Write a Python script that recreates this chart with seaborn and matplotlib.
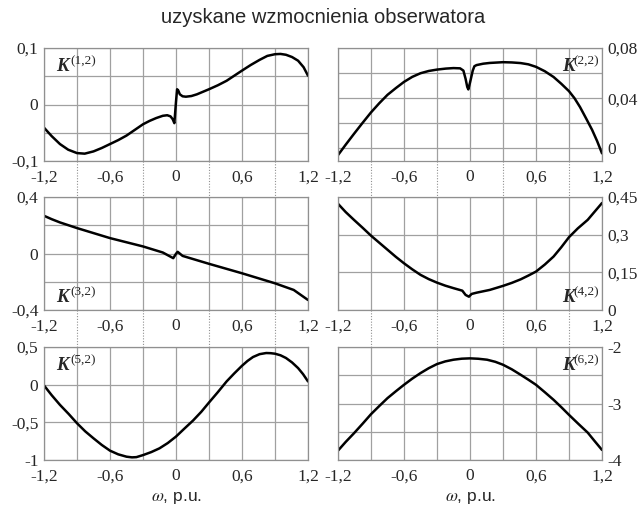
import matplotlib
matplotlib.use('Agg')
import matplotlib.pyplot as plt
import seaborn as sns
import pandas as pd
from matplotlib.ticker import FuncFormatter, MultipleLocator

sns.set_style("white")
plt.rcParams['font.family'] = ['Liberation Serif', 'DejaVu Serif']
plt.rcParams['axes.unicode_minus'] = False
plt.rcParams['mathtext.fontset'] = 'stix'

# dane
w_k12 = [-1.2, -1.13, -1.055, -0.98, -0.9, -0.83, -0.75, -0.675, -0.6, -0.525, -0.45, -0.375,
         -0.3, -0.24, -0.18, -0.12, -0.08, -0.05, -0.03, -0.015, 0.0, 0.01, 0.02, 0.035, 0.06,
         0.09, 0.14, 0.19, 0.3, 0.38, 0.46, 0.53, 0.6, 0.68, 0.76, 0.83, 0.9, 0.95, 1.0,
         1.055, 1.11, 1.16, 1.2]
k12 = [-0.041, -0.056, -0.070, -0.080, -0.086, -0.087, -0.083, -0.077, -0.070, -0.063, -0.055,
       -0.045, -0.035, -0.029, -0.024, -0.020, -0.019, -0.021, -0.026, -0.033, 0.005, 0.027,
       0.025, 0.018, 0.0145, 0.0138, 0.015, 0.018, 0.027, 0.034, 0.042, 0.051, 0.060, 0.070,
       0.079, 0.086, 0.089, 0.0895, 0.088, 0.084, 0.0775, 0.066, 0.051]

w_k22 = [-1.2, -1.13, -1.055, -0.98, -0.9, -0.825, -0.75, -0.675, -0.6, -0.525, -0.45, -0.375,
         -0.3, -0.22, -0.15, -0.09, -0.06, -0.04, -0.025, -0.015, 0.0, 0.025, 0.04, 0.06, 0.12,
         0.18, 0.3, 0.38, 0.46, 0.53, 0.6, 0.68, 0.76, 0.83, 0.9, 0.95, 1.0, 1.055, 1.11,
         1.155, 1.2]
k22 = [-0.0053, 0.003, 0.0116, 0.020, 0.0287, 0.036, 0.0427, 0.048, 0.053, 0.057, 0.0599,
       0.0617, 0.0628, 0.0636, 0.064, 0.0638, 0.062, 0.0554, 0.049, 0.047, 0.0524, 0.062,
       0.0655, 0.0664, 0.0675, 0.0681, 0.0687, 0.0685, 0.068, 0.067, 0.065, 0.0615, 0.0569,
       0.0515, 0.0456, 0.040, 0.033, 0.024, 0.0148, 0.006, -0.0039]

w_k32 = [-1.2, -1.13, -1.055, -0.9, -0.6, -0.3, -0.12, -0.025, 0.0, 0.015, 0.06, 0.3, 0.6,
         0.9, 1.07, 1.2]
k32 = [0.267, 0.243, 0.220, 0.180, 0.109, 0.050, 0.007, -0.033, -0.002, 0.012, -0.017, -0.073,
       -0.140, -0.211, -0.258, -0.329]

w_k42 = [-1.2, -1.13, -1.055, -0.975, -0.9, -0.825, -0.75, -0.675, -0.6, -0.525, -0.45, -0.375,
         -0.3, -0.225, -0.15, -0.07, -0.04, -0.01, 0.015, 0.06, 0.18, 0.24, 0.3, 0.38, 0.46,
         0.53, 0.6, 0.68, 0.76, 0.83, 0.9, 0.98, 1.07, 1.13, 1.2]
k42 = [0.423, 0.39, 0.359, 0.327, 0.296, 0.268, 0.240, 0.212, 0.186, 0.162, 0.140, 0.123,
       0.109, 0.097, 0.087, 0.077, 0.060, 0.053, 0.064, 0.069, 0.080, 0.088, 0.096, 0.108,
       0.122, 0.137, 0.153, 0.181, 0.213, 0.250, 0.290, 0.325, 0.359, 0.39, 0.426]

w_k52 = [-1.2, -1.13, -1.055, -0.975, -0.9, -0.825, -0.75, -0.675, -0.6, -0.525, -0.45, -0.4,
         -0.36, -0.3, -0.225, -0.15, -0.075, 0.0, 0.075, 0.155, 0.23, 0.3, 0.38, 0.46, 0.53,
         0.6, 0.65, 0.7, 0.76, 0.82, 0.86, 0.9, 0.95, 1.0, 1.055, 1.11, 1.155, 1.2]
k52 = [-0.01, -0.14, -0.268, -0.39, -0.512, -0.62, -0.712, -0.80, -0.876, -0.925, -0.956,
       -0.965, -0.962, -0.935, -0.895, -0.845, -0.775, -0.689, -0.585, -0.476, -0.36, -0.237,
       -0.10, 0.043, 0.15, 0.251, 0.315, 0.367, 0.405, 0.420, 0.418, 0.411, 0.39, 0.354,
       0.295, 0.220, 0.14, 0.043]

w_k62 = [-1.2, -1.13, -1.055, -0.975, -0.9, -0.825, -0.75, -0.675, -0.6, -0.525, -0.45, -0.375,
         -0.3, -0.225, -0.15, -0.075, 0.0, 0.075, 0.155, 0.23, 0.3, 0.38, 0.46, 0.53, 0.6,
         0.68, 0.76, 0.83, 0.9, 0.985, 1.07, 1.135, 1.2]
k62 = [-3.834, -3.68, -3.527, -3.355, -3.189, -3.045, -2.905, -2.785, -2.669, -2.56, -2.462,
       -2.375, -2.302, -2.255, -2.225, -2.207, -2.201, -2.208, -2.225, -2.262, -2.314, -2.395,
       -2.491, -2.578, -2.669, -2.80, -2.935, -3.065, -3.201, -3.36, -3.515, -3.67, -3.822]

x_ticks = [-1.2, -0.6, 0, 0.6, 1.2]

panels = [
    # (w, k, indeks, ylim, etykiety y, krok siatki, strona osi, polozenie etykiety K)
    (w_k12, k12, '(1,2)', (-0.1, 0.1), [-0.1, 0, 0.1], 0.05, 'left', 'top'),
    (w_k22, k22, '(2,2)', (-0.01, 0.08), [0, 0.04, 0.08], 0.02, 'right', 'top'),
    (w_k32, k32, '(3,2)', (-0.4, 0.4), [-0.4, 0, 0.4], 0.2, 'left', 'bottom'),
    (w_k42, k42, '(4,2)', (0, 0.45), [0, 0.15, 0.3, 0.45], 0.15, 'right', 'bottom'),
    (w_k52, k52, '(5,2)', (-1, 0.5), [-1, -0.5, 0, 0.5], 0.5, 'left', 'top'),
    (w_k62, k62, '(6,2)', (-4, -2), [-4, -3, -2], 0.5, 'right', 'top'),
]

fig = plt.figure(figsize=(6.4, 5.14), dpi=100)
W, H = 640, 514
col_x = [44, 338]
row_top = [48, 197, 347]
aw, ah = 264, 113

def fmt(v, pos):
    s = ('%.2f' % v).rstrip('0').rstrip('.')
    if s == '-0':
        s = '0'
    return s.replace('.', ',')

axes = []
for i, (w, k, idx, ylim, yt, step, side, kpos) in enumerate(panels):
    r, c = divmod(i, 2)
    ax = fig.add_axes([col_x[c] / W, 1 - (row_top[r] + ah) / H, aw / W, ah / H])
    axes.append(ax)
    df = pd.DataFrame({'omega': w, 'K': k})
    sns.lineplot(data=df, x='omega', y='K', ax=ax, color='black', lw=1.8,
                 estimator=None, sort=False)
    ax.set_xlim(-1.2, 1.2)
    ax.set_ylim(*ylim)
    ax.xaxis.set_minor_locator(MultipleLocator(0.3))
    ax.set_xticks(x_ticks)
    ax.yaxis.set_minor_locator(MultipleLocator(step))
    ax.set_yticks(yt)
    ax.xaxis.set_major_formatter(FuncFormatter(fmt))
    ax.yaxis.set_major_formatter(FuncFormatter(fmt))
    ax.grid(True, which='both', color='#a0a0a0', lw=0.9)
    ax.set_axisbelow(True)
    ax.tick_params(which='both', length=0, labelsize=12.5)
    ax.tick_params(axis='x', pad=6)
    ax.tick_params(axis='y', pad=4)
    if side == 'right':
        ax.yaxis.tick_right()
    for sp in ax.spines.values():
        sp.set_color('#909090')
        sp.set_linewidth(0.9)
    ax.set_xlabel('')
    ax.set_ylabel('')

    # etykieta K^(i,j)
    ky = 0.80 if kpos == 'top' else 0.075
    if c == 0:
        kx = 0.045
        ax.text(kx, ky, 'K', transform=ax.transAxes, fontsize=13.5,
                fontweight='bold', style='italic', ha='left', va='baseline')
        ax.annotate(idx, xy=(kx, ky), xycoords='axes fraction', xytext=(10.5, 4.5),
                    textcoords='offset points', fontsize=9.5, ha='left', va='baseline')
    else:
        kx = 0.99
        ax.annotate(idx, xy=(kx, ky), xycoords='axes fraction', xytext=(0, 4.5),
                    textcoords='offset points', fontsize=9.5, ha='right', va='baseline')
        ax.annotate('K', xy=(kx, ky), xycoords='axes fraction', xytext=(-17.5, 0),
                    textcoords='offset points', fontsize=13.5, fontweight='bold',
                    style='italic', ha='right', va='baseline')

    if r == 2:
        ax.set_xlabel('$\\omega$, p.u.', family='Liberation Sans', fontsize=12.5,
                      labelpad=4)

# kropkowane linie pomiedzy wierszami
for r in range(2):
    for c in range(2):
        ax = axes[r * 2 + c]
        gap = (row_top[r + 1] - row_top[r] - ah) / ah
        for xv in [-0.9, -0.3, 0.3, 0.9]:
            ax.plot([xv, xv], [0, -gap], transform=ax.get_xaxis_transform(),
                    clip_on=False, ls=(0, (1, 1.5)), color='#909090', lw=0.8)

fig.text(0.505, 0.965, 'uzyskane wzmocnienia obserwatora', ha='center', va='center',
         family='Liberation Sans', fontsize=14.5)

plt.savefig('out.png', dpi=100)
